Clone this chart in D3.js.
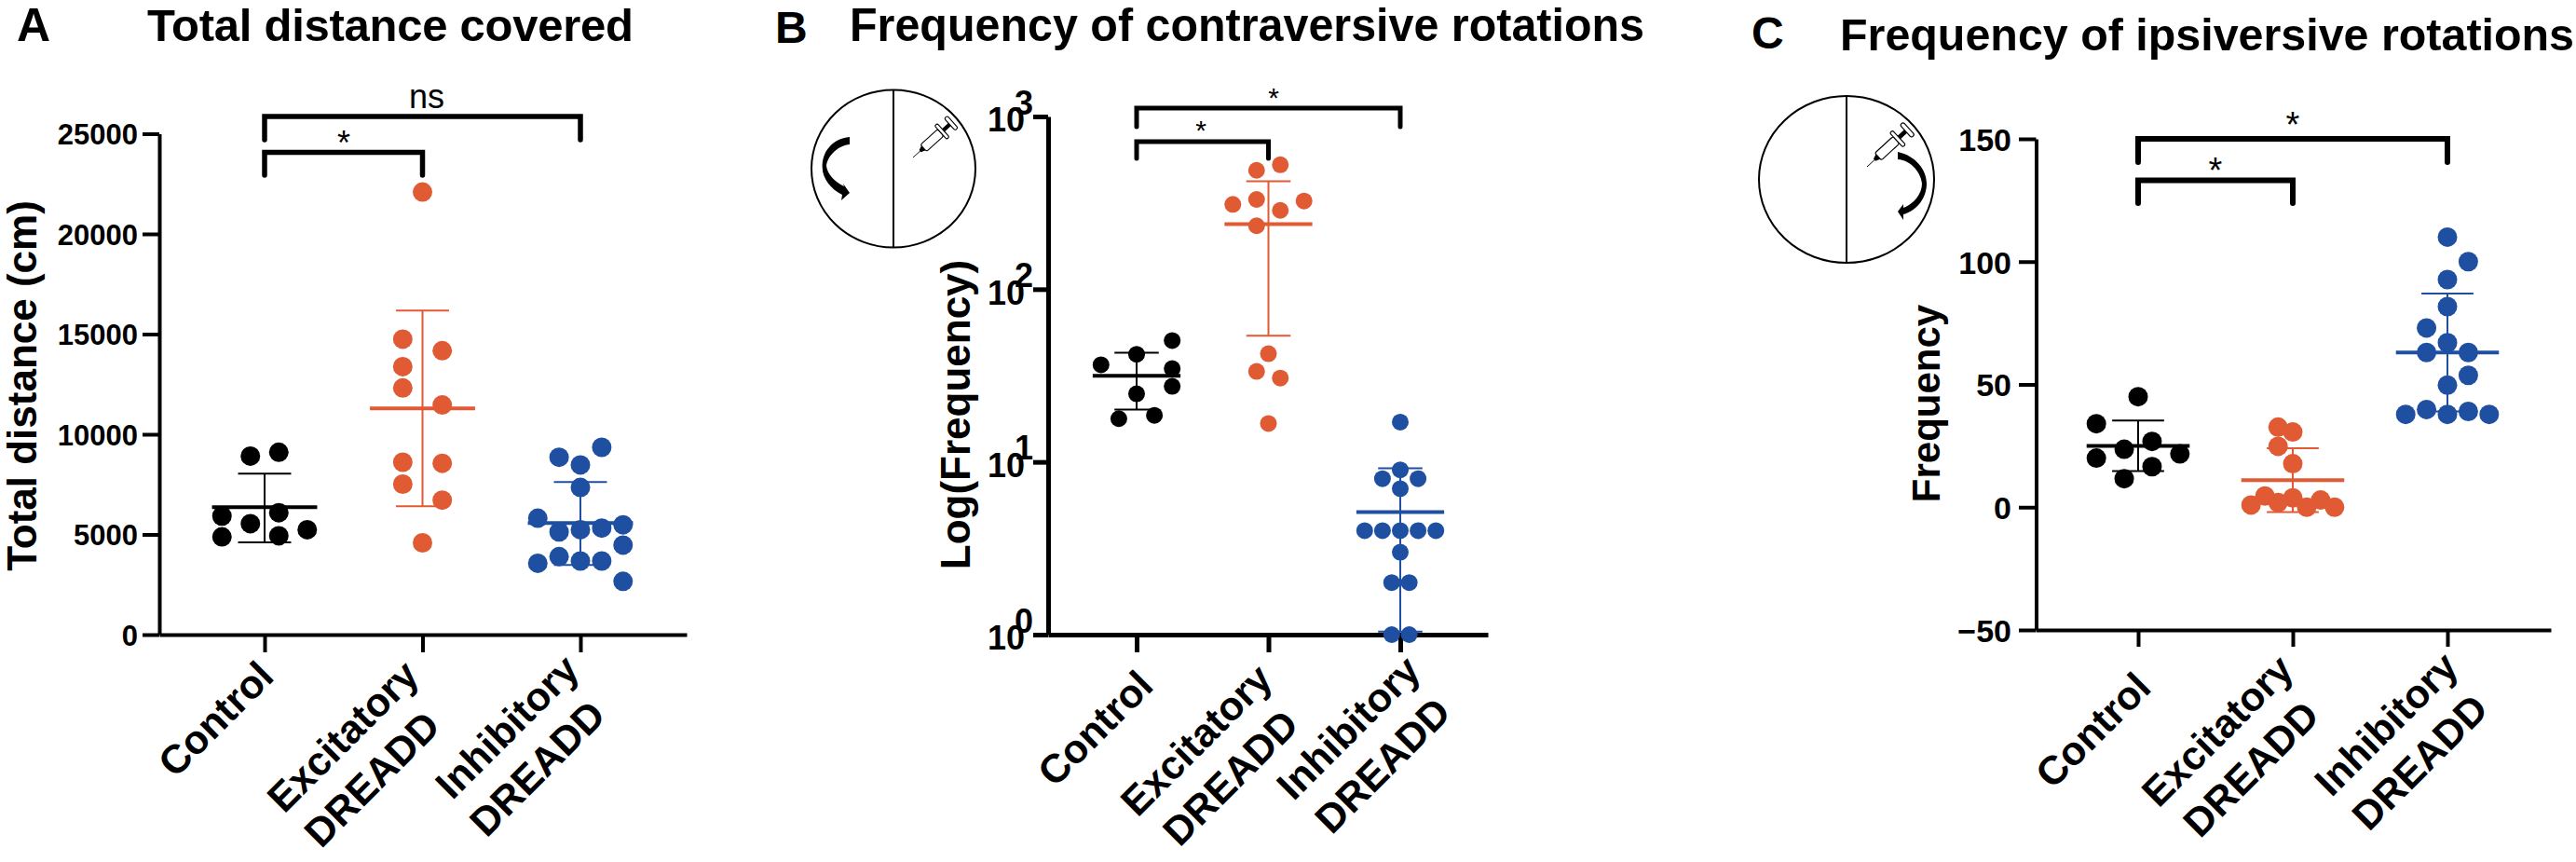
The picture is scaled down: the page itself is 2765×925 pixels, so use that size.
<!DOCTYPE html>
<html><head><meta charset="utf-8">
<script src="https://cdnjs.cloudflare.com/ajax/libs/d3/7.8.5/d3.min.js"></script>
<style>html,body{margin:0;padding:0;background:#fff}svg{display:block}text{font-family:"Liberation Sans",Arial,sans-serif;fill:#000}</style>
</head><body><svg id="c" width="2765" height="925"></svg>
<script>
const categories = [["Control"],["Excitatory","DREADD"],["Inhibitory","DREADD"]];
const groupColors = ["#000000","#E05A34","#1F4FA1"];

// Panel A: total distance (cm)
const distControl = [8910,9100,5920,5540,6085,4880,4935,5235];
const distControlSlot = [-.09,.09,-.27,-.09,.09,-.27,.09,.27];
const distExcit = [22090,14750,14170,13375,12310,11460,8605,8550,7510,6715,4580];
const distExcitSlot = [0,-.125,.125,-.125,-.125,.125,-.125,.125,-.125,.125,0];
const distInhib = [9347,8853,8470,7346,5811,5126,5235,5318,5482,4468,3892,3673,3673,3563,2659];
const distInhibSlot = [.135,-.135,0,0,-.27,-.135,0,.135,.27,.27,-.135,0,.135,-.27,.27];
const distSummary = [[6360,8030,4600],[11290,16170,6410],[5564,7620,3480]];
const distTicks = [0,5000,10000,15000,20000,25000];

// Panel B: contraversive rotations
const contraControl = [50.4,42,36.5,34.7,27.4,24.8,18.6,17.8];
const contraControlSlot = [.27,0,-.27,.27,.27,0,.135,-.135];
const contraExcit = [525,488,324,331,310,286,233,42.3,33.4,30.6,16.7];
const contraExcitSlot = [.09,-.09,.27,-.09,-.27,.09,-.09,0,-.09,.09,0];
const contraInhib = [17,9,8,8,7,4,4,4,4,4,3,2,2,1,1];
const contraInhibSlot = [0,0,-.135,.135,0,-.27,-.135,0,.135,.27,0,-.065,.068,-.065,.068];
const contraSummary = [[31.5,42.9,20.1],[238,422,53.8],[5.12,9.2,1.04]];
const contraTicks = [1,10,100,1000];

// Panel C: ipsiversive rotations
const ipsiControl = [45,34,26.8,23.6,21.7,20,16.5,11.6];
const ipsiControlSlot = [0,-.27,.09,-.09,.27,-.27,.09,-.09];
const ipsiExcit = [32.6,30.6,24.8,17.7,4.6,3.8,.9,1.9,2.9,0,0];
const ipsiExcitSlot = [-.095,0,-.095,0,-.18,0,-.27,-.095,.18,.09,.27];
const ipsiInhib = [110,100,92.7,81.7,73,67,63,63,53.7,49.7,39.8,39,37.8,37.8,37.8];
const ipsiInhibSlot = [0,.135,0,0,-.135,0,-.135,.135,.135,0,-.135,.135,-.27,0,.27];
const ipsiSummary = [[25,35.3,14.7],[11,24,-2],[63,87,39]];
const ipsiTicks = [-50,0,50,100,150];

const svg = d3.select("#c");

function panel(o){
  const g = svg.append("g");
  const x0 = d3.scaleLinear().domain([0,2]).range([o.c0,o.c2]);
  const x = d3.scaleLinear().domain([x0.invert(o.axisX),x0.invert(o.axisEnd)]).range([o.axisX,o.axisEnd]);
  const y = (o.log ? d3.scaleLog() : d3.scaleLinear()).domain(o.yDomain).range([o.yBottom,o.yTop]);

  const ay = g.append("g").attr("transform",`translate(${o.axisX},0)`)
    .call(d3.axisLeft(y).tickValues(o.ticks).tickSize(o.axisX-o.tickLeft).tickSizeOuter(0).tickPadding(o.tickPad)
      .tickFormat(o.log ? ()=>"" : d=>d3.format("d")(d)));
  ay.selectAll("path,line").attr("stroke","#000").attr("stroke-width",o.axisW);
  ay.selectAll("text").attr("font-size",o.tickFont).attr("font-weight","bold").attr("fill","#000").attr("dy","0.36em");
  if(o.log){
    ay.selectAll(".tick").each(function(d){
      const t=d3.select(this), e=Math.round(Math.log10(d));
      t.append("text").attr("x",-25).attr("y",o.tickFont*.44).attr("text-anchor","end")
        .attr("font-size",o.tickFont).attr("font-weight","bold").attr("fill","#000").text("10");
      t.append("text").attr("x",-16).attr("y",-3).attr("text-anchor","end")
        .attr("font-size",o.tickFont).attr("font-weight","bold").attr("fill","#000").text(e);
    });
  }
  const ax = g.append("g").attr("transform",`translate(0,${o.yBottom})`)
    .call(d3.axisBottom(x).tickValues([0,1,2]).tickSize(o.xTick).tickSizeOuter(0).tickFormat(""));
  ax.selectAll("path,line").attr("stroke","#000").attr("stroke-width",o.axisW);

  o.series.forEach((s,i)=>{
    const col=groupColors[i], sg=g.append("g");
    sg.selectAll("circle").data(s.values).join("circle")
      .attr("cx",(d,j)=>x(i+s.slots[j])).attr("cy",d=>y(d)).attr("r",o.r).attr("fill",col);
    const [m,hi,lo]=o.summary[i];
    const seg=(a,b,c,d,w)=>sg.append("line").attr("x1",a).attr("x2",b).attr("y1",c).attr("y2",d).attr("stroke",col).attr("stroke-width",w);
    seg(x(i),x(i),y(hi),y(lo),o.errW);
    seg(x(i-.168),x(i+.168),y(hi),y(hi),o.errW);
    seg(x(i-.168),x(i+.168),y(lo),y(lo),o.errW);
    seg(x(i-.333),x(i+.333),y(m),y(m),o.meanW);
  });

  o.brackets.forEach(b=>{
    g.append("path").attr("fill","none").attr("stroke","#000").attr("stroke-width",o.brW).attr("stroke-linecap","round").attr("stroke-linejoin","miter")
      .attr("d",d3.line()([[x(b.a),b.end],[x(b.a),b.y],[x(b.b),b.y],[x(b.b),b.end2||b.end]]));
    g.append("text").attr("x",b.tx).attr("y",b.ty).attr("text-anchor","middle").attr("font-size",b.fs).text(b.label);
  });

  o.labels.forEach((p,i)=>{
    const t=g.append("g").attr("transform",`translate(${p[0]},${p[1]}) rotate(-45)`);
    categories[i].forEach((line,k)=>{
      t.append("text").attr("x",k? -p[2]*o.catFont:0).attr("y",k*o.catFont*1.27)
       .attr("text-anchor","end").attr("font-weight","bold").attr("font-size",o.catFont).text(line);
    });
  });

  svg.append("text").attr("transform",`translate(${o.yl[0]},${o.yl[1]}) rotate(-90)`)
    .attr("text-anchor","middle").attr("font-weight","bold").attr("font-size",o.yl[2]).text(o.yLabel);
  svg.append("text").attr("x",o.title[0]).attr("y",o.title[1]).attr("font-weight","bold").attr("font-size",o.title[3])
    .attr("textLength",o.title[2]).attr("lengthAdjust",o.title[4]).text(o.titleText);
  svg.append("text").attr("x",o.letter[0]).attr("y",o.letter[1]).attr("font-weight","bold").attr("font-size",o.letter[2]).text(o.letterText);
}

function syringe(tx,ty,ang,sc){
  const g=svg.append("g").attr("transform",`translate(${tx},${ty}) rotate(${ang}) scale(${sc})`)
    .attr("fill","none").attr("stroke","#000").attr("stroke-width",1);
  g.append("line").attr("x1",0).attr("x2",13).attr("y1",0).attr("y2",0).attr("stroke-width",.8);
  g.append("path").attr("d","M10,-1L14,-2.5L14,2.5L10,1Z").attr("fill","#000");
  g.append("rect").attr("x",14).attr("y",-4.5).attr("width",23).attr("height",9).attr("rx",2).attr("fill","#fff");
  g.append("rect").attr("x",37).attr("y",-9).attr("width",3.5).attr("height",18).attr("rx",1.7).attr("fill","#fff");
  g.append("rect").attr("x",41).attr("y",-1.5).attr("width",8).attr("height",3).attr("fill","#000");
  g.append("rect").attr("x",49).attr("y",-8).attr("width",4).attr("height",16).attr("rx",2).attr("fill","#fff");
}
function dish(cx,cy,rx,ry){
  svg.append("ellipse").attr("cx",cx).attr("cy",cy).attr("rx",rx).attr("ry",ry).attr("fill","#fff").attr("stroke","#000").attr("stroke-width",2);
  svg.append("line").attr("x1",cx).attr("x2",cx).attr("y1",cy-ry).attr("y2",cy+ry).attr("stroke","#000").attr("stroke-width",2);
}
dish(959,181,88,84.5);
svg.append("path").attr("fill","#000").attr("d","M912,147 L912,155 C900,156 888,167 887,178 C888,187 896,195 906,200 L905,197 L912,207 L903,215 L904,209 C892,203 883,192 882.7,180 C882,163 893,149 912,147Z");
syringe(980,169,-42,1.08);
dish(1982,192.5,94,89.5);
svg.append("path").attr("fill","#000").attr("d","M2037,163 C2056,167 2068,182 2068,197 C2068,212 2058,226 2043,230 L2043,236 L2037,227 L2043,219 L2043,223 C2054,219 2063,208 2063,197 C2062,186 2052,172 2037,171Z");
syringe(2004,179,-42.5,1.15);

panel({
  c0:284,c2:623,axisX:171,axisEnd:737,tickLeft:153,tickPad:5,xTick:19,
  yDomain:[0,25000],yBottom:681,yTop:143.5,ticks:distTicks,axisW:4,tickFont:31,r:10.5,errW:2,meanW:4,brW:5.5,
  series:[{values:distControl,slots:distControlSlot},{values:distExcit,slots:distExcitSlot},{values:distInhib,slots:distInhibSlot}],
  summary:distSummary,
  brackets:[{a:0,b:2,y:125,end:150,tx:458,ty:116,fs:36,label:"ns"},{a:0,b:1,y:163.5,end:188,tx:369,ty:166,fs:36,label:"*"}],
  labels:[[296,728,0],[452,727,.52],[624,721,.34]],catFont:43,
  yl:[39,414,44],yLabel:"Total distance (cm)",
  title:[158,44,522,49,"spacing"],titleText:"Total distance covered",
  letter:[18,44,50],letterText:"A"
});
panel({
  log:true,c0:1220,c2:1503,axisX:1125,axisEnd:1597,tickLeft:1109,tickPad:5,xTick:19,
  yDomain:[1,1000],yBottom:681,yTop:125,ticks:contraTicks,axisW:5,tickFont:36,r:9,errW:2,meanW:4,brW:5,
  series:[{values:contraControl,slots:contraControlSlot},{values:contraExcit,slots:contraExcitSlot},{values:contraInhib,slots:contraInhibSlot}],
  summary:contraSummary,
  brackets:[{a:0,b:2,y:116,end:136,tx:1367,ty:115,fs:30,label:"*"},{a:0,b:1,y:152,end:170,tx:1289,ty:150,fs:30,label:"*"}],
  labels:[[1240,738,0],[1368,731,.34],[1527,722,.2]],catFont:43,
  yl:[1041,445,44],yLabel:"Log(Frequency)",
  title:[912,44,853,49.5,"spacingAndGlyphs"],titleText:"Frequency of contraversive rotations",
  letter:[832,46,48],letterText:"B"
});
panel({
  c0:2295,c2:2627,axisX:2185.5,axisEnd:2738,tickLeft:2167,tickPad:8,xTick:18,
  yDomain:[-50,150],yBottom:676,yTop:149,ticks:ipsiTicks,axisW:4,tickFont:34,r:10.5,errW:2,meanW:4,brW:6,
  series:[{values:ipsiControl,slots:ipsiControlSlot},{values:ipsiExcit,slots:ipsiExcitSlot},{values:ipsiInhib,slots:ipsiInhibSlot}],
  summary:ipsiSummary,
  brackets:[{a:0,b:2,y:149,end:174,tx:2461,ty:147,fs:38,label:"*"},{a:0,b:1,y:193.5,end:218,tx:2378,ty:196,fs:38,label:"*"}],
  labels:[[2311,740,0],[2464,721,.36],[2641,718,.22]],catFont:43,
  yl:[2082,433,42],yLabel:"Frequency",
  title:[1975,54,788,48.5,"spacingAndGlyphs"],titleText:"Frequency of ipsiversive rotations",
  letter:[1880,52,48],letterText:"C"
});
</script></body></html>
